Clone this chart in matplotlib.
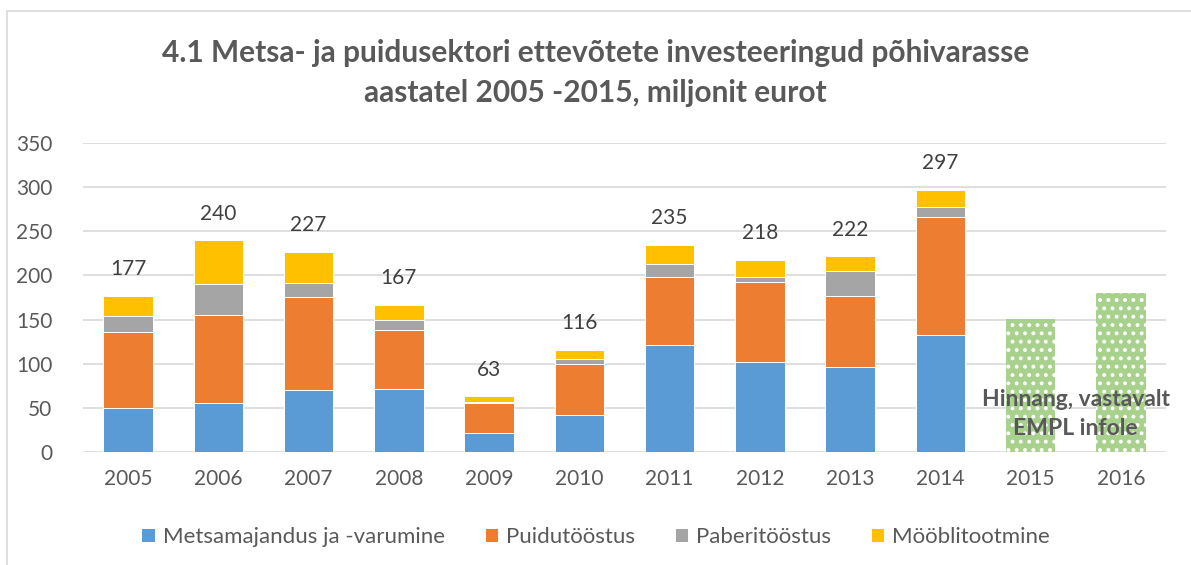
import matplotlib
matplotlib.use("Agg")
import matplotlib.pyplot as plt
from matplotlib.patches import Rectangle
import numpy as np

years = ["2005", "2006", "2007", "2008", "2009", "2010", "2011", "2012", "2013", "2014", "2015", "2016"]
metsamajandus = [50, 55, 70, 71, 22, 42, 121, 102, 96, 132]
puidutoostus = [86, 100, 106, 67, 33, 58, 77, 90, 81, 134]
paberitoostus = [18, 35, 15, 11, 2, 5, 15, 6, 28, 11]
mooblitootmine = [23, 50, 36, 18, 6, 11, 22, 20, 17, 20]
totals = [177, 240, 227, 167, 63, 116, 235, 218, 222, 297]
hinnang = [151, 180]
series_names = ["Metsamajandus ja -varumine", "Puidutööstus", "Paberitööstus", "Mööblitootmine"]
colors = ["#5B9BD5", "#ED7D31", "#A5A5A5", "#FFC000"]
title = "4.1 Metsa- ja puidusektori ettevõtete investeeringud põhivarasse\naastatel 2005 -2015, miljonit eurot"
note = "Hinnang, vastavalt\nEMPL infole"

plt.rcParams['font.family'] = ['Lato', 'DejaVu Sans']
plt.rcParams['hatch.linewidth'] = 1.6

fig = plt.figure(figsize=(11.91, 5.65), dpi=100)
ax = fig.add_axes([83/1191, 1-452/565, (1166-83)/1191, (452-143)/565])

txt = "#595959"
n = len(metsamajandus)
x = np.arange(n)
w = 0.55
bottom = np.zeros(n)
for vals, name, c in zip([metsamajandus, puidutoostus, paberitoostus, mooblitootmine], series_names, colors):
    ax.bar(x, vals, w, bottom=bottom, color=c, edgecolor="white", linewidth=0.7, label=name, zorder=3)
    bottom += np.array(vals)

for xi, top, t in zip(x, bottom, totals):
    ax.annotate(str(t), (xi, top), xytext=(0, 19), textcoords="offset points",
                ha="center", va="center", fontsize=15, color="#404040")

xh = np.arange(n, n + len(hinnang))
ax.bar(xh, hinnang, w, color="#A9D18E", edgecolor="white", linewidth=0, hatch="..", zorder=3)
ax.text((xh[0] + xh[-1]) / 2, 43, note, ha="center", va="center", fontsize=16.5,
        fontweight="bold", color=txt, zorder=5, linespacing=1.45)

ax.set_xlim(-0.5, len(years) - 0.5)
ax.set_ylim(0, 350)
ax.set_yticks(np.arange(0, 351, 50))
ax.set_xticks(np.arange(len(years)))
ax.set_xticklabels(years)
ax.yaxis.grid(True, color="#D9D9D9", linewidth=1.2, zorder=0)
ax.set_axisbelow(True)
for s in ax.spines.values():
    s.set_visible(False)
ax.tick_params(axis="both", length=0, labelsize=15, labelcolor=txt)
ax.tick_params(axis="y", pad=22)
ax.tick_params(axis="x", pad=12)

fig.text(0.5, 1 - 73/565, title, ha="center", va="center", fontsize=21.5, fontweight="bold",
         color=txt, linespacing=1.55)

handles, labels = ax.get_legend_handles_labels()
fig.legend(handles, labels, loc="center", bbox_to_anchor=(0.5, 1 - 537/565), ncol=4, frameon=False,
           fontsize=16, labelcolor=txt, handlelength=0.6, handleheight=0.6, handletextpad=0.35,
           columnspacing=1.8)

fig.patches.append(Rectangle((7/1191, -0.1), 1.2, 1 - 11/565 + 0.1, transform=fig.transFigure,
                             fill=False, edgecolor="#D9D9D9", linewidth=1.2))

fig.savefig("out.png", dpi=100)
